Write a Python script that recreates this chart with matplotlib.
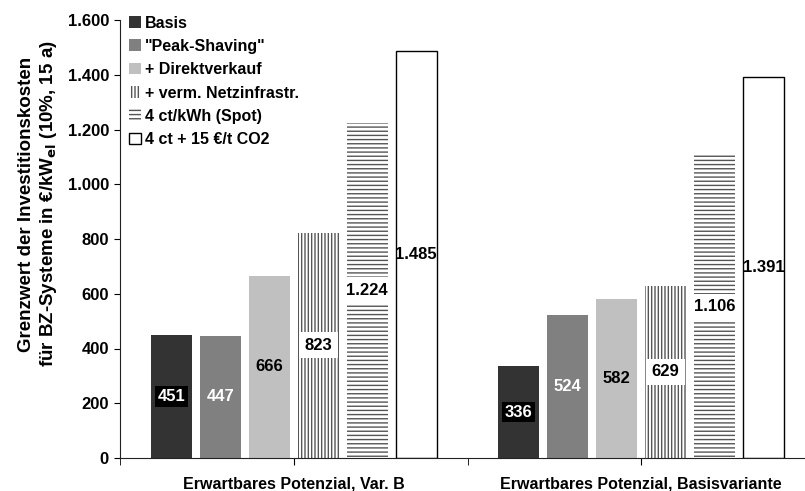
import matplotlib.pyplot as plt
from matplotlib.patches import Patch
import numpy as np

plt.rcParams['font.family'] = ['Liberation Sans', 'DejaVu Sans']
plt.rcParams['font.weight'] = 'bold'
plt.rcParams['hatch.linewidth'] = 1.0

# data
categories = ["Erwartbares Potenzial, Var. B", "Erwartbares Potenzial, Basisvariante"]
series = ["Basis", '"Peak-Shaving"', "+ Direktverkauf", "+ verm. Netzinfrastr.",
          "4 ct/kWh (Spot)", "4 ct + 15 €/t CO2"]
values = [
    [451, 336],
    [447, 524],
    [666, 582],
    [823, 629],
    [1224, 1106],
    [1485, 1391],
]
value_labels = [
    ["451", "336"],
    ["447", "524"],
    ["666", "582"],
    ["823", "629"],
    ["1.224", "1.106"],
    ["1.485", "1.391"],
]

# styles per series
faces = ["#333333", "#808080", "#c0c0c0", "white", "white", "white"]
edges = ["#333333", "#808080", "#c0c0c0", "#555555", "#555555", "black"]
hatches = [None, None, None, "|||||", "----", None]
lws = [0, 0, 0, 0, 0, 1.0]
text_colors = ["white", "white", "black", "black", "black", "black"]
boxes = ["black", None, None, "white", "white", None]
box_pads = [2, 0, 0, 4, 4, 0]

fig = plt.figure(figsize=(8.05, 4.91), dpi=100)
ax = fig.add_axes([120 / 805, 33 / 491, 695 / 805, 438 / 491])

x = np.arange(len(categories))
step = 0.141
width = 0.118
offsets = (np.arange(len(series)) - 2.5) * step

for i, name in enumerate(series):
    xs = x + offsets[i]
    ax.bar(xs, values[i], width, color=faces[i], edgecolor=edges[i],
           hatch=hatches[i], linewidth=lws[i], label=name)
    for xi, v, lab in zip(xs, values[i], value_labels[i]):
        bbox = None
        if boxes[i] is not None:
            bbox = dict(facecolor=boxes[i], edgecolor='none', pad=box_pads[i])
        ax.text(xi, v / 2, lab, ha='center', va='center', fontsize=12,
                fontweight='bold', color=text_colors[i], bbox=bbox)

ax.set_xlim(-0.5, 1.5)
ax.set_ylim(0, 1600)
ax.set_yticks(np.arange(0, 1601, 200))
ax.set_yticklabels([f"{v:,}".replace(",", ".") for v in range(0, 1601, 200)],
                   fontsize=12, fontweight='bold')
ax.set_xticks(x)
ax.set_xticklabels(categories, fontsize=11.5, fontweight='bold')
ax.set_xticks([-0.5, 0.5], minor=True)
ax.tick_params(axis='x', which='both', direction='out', length=5, pad=8)
ax.tick_params(axis='y', direction='out', length=4, pad=4)
for s in ['top', 'right']:
    ax.spines[s].set_visible(False)
ax.spines['left'].set_color('#222222')
ax.spines['bottom'].set_color('#222222')

ax.set_ylabel("Grenzwert der Investitionskosten\nfür BZ-Systeme in €/kW$_{\\mathbf{el}}$ (10%, 15 a)",
              fontsize=13.5, fontweight='bold')
ax.yaxis.set_label_coords(-0.088, 0.58)

handles = [Patch(facecolor=faces[i], edgecolor=edges[i], hatch=hatches[i],
                 linewidth=lws[i]) for i in range(len(series))]
ax.legend(handles, series, loc='upper left', bbox_to_anchor=(127 / 805, 1 - 14 / 491),
          bbox_transform=fig.transFigure, frameon=False, fontsize=11.5,
          handlelength=0.75, handleheight=0.75, handletextpad=0.3,
          labelspacing=0.52, borderpad=0.1, borderaxespad=0)

fig.savefig("out.png", dpi=100)
